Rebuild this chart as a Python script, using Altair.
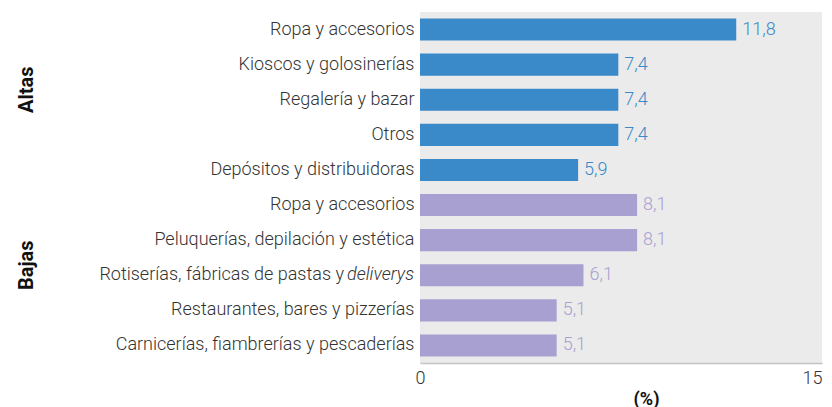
import json
import altair as alt
import pandas as pd

groups = ["Altas"] * 5 + ["Bajas"] * 5
labels_main = [
    "Ropa y accesorios",
    "Kioscos y golosinerías",
    "Regalería y bazar",
    "Otros",
    "Depósitos y distribuidoras",
    "Ropa y accesorios",
    "Peluquerías, depilación y estética",
    "Rotiserías, fábricas de pastas y",
    "Restaurantes, bares y pizzerías",
    "Carnicerías, fiambrerías y pescaderías",
]
labels_italic = ["", "", "", "", "", "", "", "deliverys", "", ""]
values = [11.8, 7.4, 7.4, 7.4, 5.9, 8.1, 8.1, 6.1, 5.1, 5.1]

group_names = ["Altas", "Bajas"]
group_anchor = ["2", "7"]
group_colors = ["#3a89c9", "#a9a0d2"]

FONT = "Roboto"
FS = 18
TXT = "#333333"
ITALIC_W = 70  # pixel width reserved for " deliverys"

ids = [str(i) for i in range(len(values))]
df = pd.DataFrame({
    "id": ids,
    "group": groups,
    "value": values,
    "vlabel": [f"{v:.1f}".replace(".", ",") for v in values],
    "main": labels_main,
    "italic": labels_italic,
})

axis_labels = [("" if it else m) for m, it in zip(labels_main, labels_italic)]
label_expr = json.dumps(axis_labels, ensure_ascii=False) + "[toNumber(datum.value)]"

yscale = alt.Scale(domain=ids, paddingInner=0.37, paddingOuter=0.185)
color = alt.Color("group:N", scale=alt.Scale(domain=group_names, range=group_colors), legend=None)
Y = alt.Y("id:N", scale=yscale, sort=ids)

base = alt.Chart(df)

bars = base.mark_bar().encode(
    x=alt.X("value:Q", scale=alt.Scale(domain=[0, 15], nice=False, zero=True),
            axis=alt.Axis(values=[0, 15], title="(%)", grid=False, ticks=False,
                          domain=True, domainColor="#c4c4c4", domainWidth=1.5,
                          labelFont=FONT, labelFontSize=FS, labelColor=TXT,
                          labelFontWeight=300, labelPadding=6, labelFlush=False,
                          labelAlign={"condition": {"test": "datum.value >= 15", "value": "right"},
                                      "value": "center"},
                          titleFont=FONT, titleFontSize=FS, titleFontWeight="bold",
                          titleColor="#111111", titleX=226, titleY=27,
                          titleBaseline="top", titleAnchor="middle")),
    y=alt.Y("id:N", scale=yscale, sort=ids,
            axis=alt.Axis(title=None, ticks=False, domain=False, grid=False,
                          labelExpr=label_expr, labelFont=FONT, labelFontSize=FS,
                          labelFontWeight=300, labelColor=TXT, labelPadding=6,
                          labelLimit=0)),
    color=color,
)

value_text = base.mark_text(align="left", baseline="middle", dx=6, font=FONT,
                            fontSize=FS, fontWeight=300).encode(
    x="value:Q", y=Y, text="vlabel:N", color=color,
)

mixed = base.transform_filter("datum.italic != ''")

main_text = mixed.mark_text(
    align="right", baseline="middle", dx=-ITALIC_W, font=FONT, fontSize=FS,
    fontWeight=300, color=TXT,
).encode(x=alt.value(-6), y=Y, text="main:N")

italic_text = mixed.mark_text(
    align="right", baseline="middle", font=FONT, fontSize=FS, fontWeight=300,
    fontStyle="italic", color=TXT,
).encode(x=alt.value(-6), y=Y, text="italic:N")

gdf = pd.DataFrame({"group": group_names, "id": group_anchor})
group_text = alt.Chart(gdf).mark_text(
    angle=270, align="center", baseline="alphabetic", dx=10, font=FONT,
    fontSize=20, fontWeight="bold", color="#111111",
).encode(x=alt.value(-387), y=Y, text="group:N")

chart = alt.layer(bars, value_text, main_text, italic_text, group_text).properties(
    width=402, height=351,
    autosize=alt.AutoSizeParams(type="none"),
    padding={"left": 412, "top": 4, "right": 2, "bottom": 44},
).configure_view(fill="#ebebeb", stroke=None)

chart.save("out.html", embed_options={"renderer": "svg", "actions": False})
